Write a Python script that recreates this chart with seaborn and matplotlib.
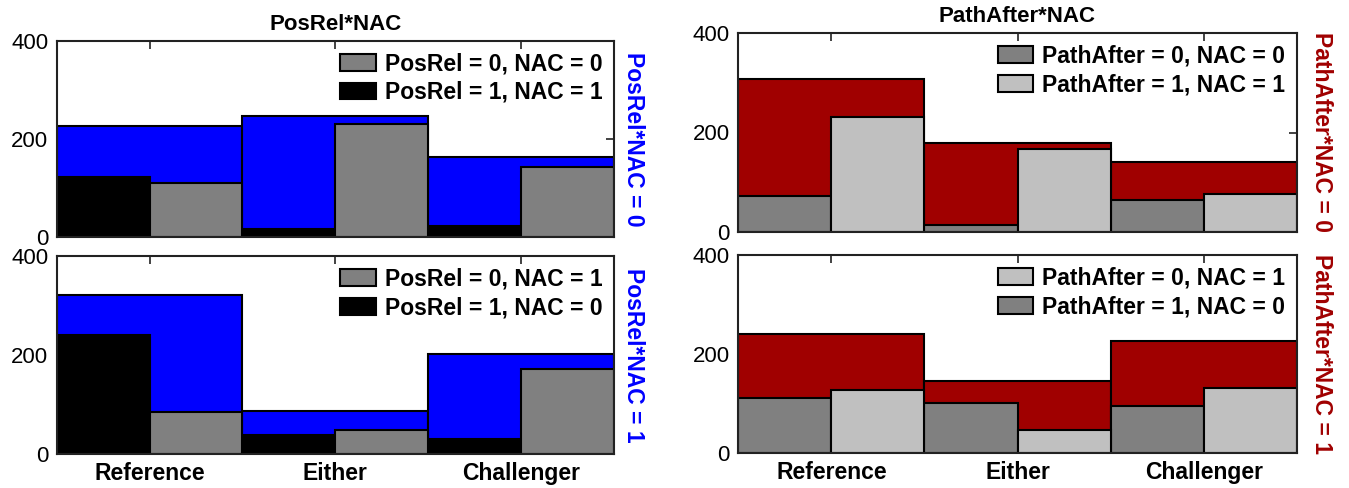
import numpy as np
import pandas as pd
import matplotlib
matplotlib.use("Agg")
import matplotlib.pyplot as plt
from matplotlib.patches import Patch
import seaborn as sns

sns.set_style("white")
plt.rcParams['font.family'] = ['Liberation Sans', 'DejaVu Sans']
plt.rcParams['text.color'] = 'black'
plt.rcParams['xtick.color'] = 'black'
plt.rcParams['ytick.color'] = 'black'

categories = ["Reference", "Either", "Challenger"]

# PosRel*NAC = 0 panel
posrel_nac0_total = [227, 246, 164]
posrel_nac0_p1n1 = [122, 16, 23]     # PosRel = 1, NAC = 1 (black)
posrel_nac0_p0n0 = [110, 230, 143]   # PosRel = 0, NAC = 0 (gray)

# PosRel*NAC = 1 panel
posrel_nac1_total = [322, 86, 202]
posrel_nac1_p1n0 = [241, 39, 31]     # PosRel = 1, NAC = 0 (black)
posrel_nac1_p0n1 = [85, 48, 171]     # PosRel = 0, NAC = 1 (gray)

# PathAfter*NAC = 0 panel
path_nac0_total = [307, 179, 141]
path_nac0_p0n0 = [72, 13, 64]        # PathAfter = 0, NAC = 0 (dark gray)
path_nac0_p1n1 = [231, 166, 77]      # PathAfter = 1, NAC = 1 (light gray)

# PathAfter*NAC = 1 panel
path_nac1_total = [241, 146, 226]
path_nac1_p1n0 = [112, 101, 94]      # PathAfter = 1, NAC = 0 (dark gray)
path_nac1_p0n1 = [127, 47, 131]      # PathAfter = 0, NAC = 1 (light gray)

BLUE = "#0000FF"
RED = "#A00000"
BLACK = "#000000"
GRAY = "#808080"
LIGHT = "#C0C0C0"

W, H = 1349, 488
fig = plt.figure(figsize=(W / 100, H / 100), dpi=100)


def px_axes(x0, x1, y0, y1):
    return fig.add_axes([x0 / W, 1 - y1 / H, (x1 - x0) / W, (y1 - y0) / H])


def panel(ax, total, left_vals, right_vals, left_lab, right_lab, left_col, right_col,
          bg_col, side_label, side_off, legend_order, show_x, title=None):
    df_bg = pd.DataFrame({"cat": categories, "val": total})
    sns.barplot(data=df_bg, x="cat", y="val", order=categories, color=bg_col,
                saturation=1, width=1.0, errorbar=None, edgecolor="black",
                linewidth=1.5, ax=ax)
    df = pd.DataFrame({
        "cat": categories * 2,
        "val": list(left_vals) + list(right_vals),
        "grp": [left_lab] * 3 + [right_lab] * 3,
    })
    sns.barplot(data=df, x="cat", y="val", hue="grp", order=categories,
                hue_order=[left_lab, right_lab],
                palette={left_lab: left_col, right_lab: right_col},
                saturation=1, width=1.0, dodge=True, errorbar=None,
                edgecolor="black", linewidth=1.5, legend=False, ax=ax)
    ax.set_xlim(-0.5, 2.5)
    ax.set_ylim(0, 400)
    ax.set_yticks([0, 200, 400])
    ax.set_xlabel("")
    ax.set_ylabel("")
    ax.tick_params(direction="in", top=True, right=True, length=6, width=1.2,
                   color="#222222", labelcolor="black", labelsize=16, pad=6)
    ax.set_xticks(range(3))
    if show_x:
        ax.set_xticklabels(categories, fontsize=16.5, fontweight="bold",
                           color="black")
    else:
        ax.set_xticklabels([])
    for sp in ax.spines.values():
        sp.set_visible(True)
        sp.set_linewidth(1.5)
        sp.set_color("#222222")
    cols = {left_lab: left_col, right_lab: right_col}
    handles = [Patch(facecolor=cols[l], edgecolor="black", linewidth=1.5, label=l)
               for l in legend_order]
    ax.legend(handles=handles, loc="upper right", frameon=False,
              prop={"size": 16.5, "weight": "bold"}, handlelength=1.55,
              handleheight=0.75, handletextpad=0.4, labelspacing=0.25,
              borderaxespad=0.1, borderpad=0.4)
    ax.text(1.0 + side_off, 0.5, side_label, transform=ax.transAxes,
            rotation=-90, ha="left", va="center", color=bg_col,
            fontsize=16.5, fontweight="bold")
    if title:
        ax.set_title(title, fontsize=16, fontweight="bold", pad=8,
                     color="black")


# left column
ax1 = px_axes(56.7, 614, 40.7, 237)
ax2 = px_axes(56.7, 614, 256, 454)
# right column
ax3 = px_axes(738.3, 1296.7, 33.3, 231.7)
ax4 = px_axes(738.3, 1296.7, 255, 453)

off_l = 8 / 557.3
off_r = 13 / 558.4

panel(ax1, posrel_nac0_total, posrel_nac0_p1n1, posrel_nac0_p0n0,
      "PosRel = 1, NAC = 1", "PosRel = 0, NAC = 0", BLACK, GRAY, BLUE,
      "PosRel*NAC = 0", off_l, ["PosRel = 0, NAC = 0", "PosRel = 1, NAC = 1"],
      show_x=False, title="PosRel*NAC")
panel(ax2, posrel_nac1_total, posrel_nac1_p1n0, posrel_nac1_p0n1,
      "PosRel = 1, NAC = 0", "PosRel = 0, NAC = 1", BLACK, GRAY, BLUE,
      "PosRel*NAC = 1", off_l, ["PosRel = 0, NAC = 1", "PosRel = 1, NAC = 0"],
      show_x=True)
panel(ax3, path_nac0_total, path_nac0_p0n0, path_nac0_p1n1,
      "PathAfter = 0, NAC = 0", "PathAfter = 1, NAC = 1", GRAY, LIGHT, RED,
      "PathAfter*NAC = 0", off_r, ["PathAfter = 0, NAC = 0", "PathAfter = 1, NAC = 1"],
      show_x=False, title="PathAfter*NAC")
panel(ax4, path_nac1_total, path_nac1_p1n0, path_nac1_p0n1,
      "PathAfter = 1, NAC = 0", "PathAfter = 0, NAC = 1", GRAY, LIGHT, RED,
      "PathAfter*NAC = 1", off_r, ["PathAfter = 0, NAC = 1", "PathAfter = 1, NAC = 0"],
      show_x=True)

fig.savefig("out.png", dpi=100)
